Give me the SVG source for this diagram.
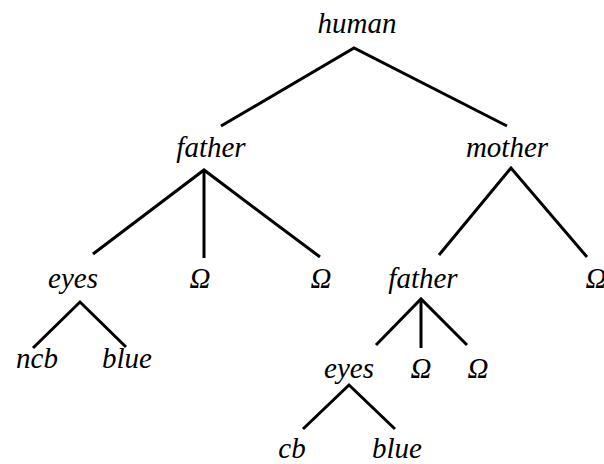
<svg xmlns="http://www.w3.org/2000/svg" width="604" height="464" viewBox="0 0 604 464">
  <style>
    .lbl { font-family: "Liberation Serif", "Times New Roman", serif; font-style: italic; font-size: 29px; fill: #000; text-anchor: middle; }
    .edge { stroke: #000; stroke-width: 3; fill: none; stroke-linecap: butt; stroke-linejoin: miter; }
  </style>
  <rect width="604" height="464" fill="#fff"/>

  <!-- tree edges -->
  <g id="edges" class="edge">
    <polyline points="221,126 354,48 507,126"/>
    <polyline points="93,254 204,170 320,257"/>
    <line x1="204" y1="170" x2="204" y2="258"/>
    <polyline points="439,255 511,168 587,257"/>
    <polyline points="33,348 80,302 126,347"/>
    <polyline points="376,345 421,299 467,345"/>
    <line x1="421" y1="299" x2="421" y2="348"/>
    <polyline points="303,429 349,385 395,429"/>
  </g>

  <g class="lbl">
    <g id="n-human"><text x="357" y="33">human</text></g>
    <g id="n-father"><text x="211" y="157">father</text></g>
    <g id="n-mother"><text x="507" y="157">mother</text></g>
    <g id="n-eyes"><text x="73" y="288">eyes</text></g>
    <g id="n-omega1"><text x="200" y="288">Ω</text></g>
    <g id="n-omega2"><text x="321" y="288">Ω</text></g>
    <g id="n-father2"><text x="423" y="288">father</text></g>
    <g id="n-omega3"><text x="596" y="288">Ω</text></g>
    <g id="n-ncb"><text x="37" y="368">ncb</text></g>
    <g id="n-blue"><text x="127" y="368">blue</text></g>
    <g id="n-eyes2"><text x="349" y="378">eyes</text></g>
    <g id="n-omega4"><text x="421" y="378">Ω</text></g>
    <g id="n-omega5"><text x="478" y="378">Ω</text></g>
    <g id="n-cb"><text x="292" y="458">cb</text></g>
    <g id="n-blue2"><text x="397" y="458">blue</text></g>
  </g>
</svg>
